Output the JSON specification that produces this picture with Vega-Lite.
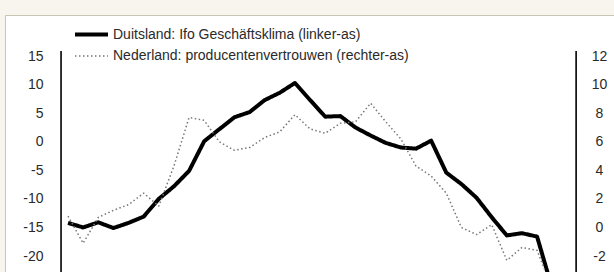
{
  "$schema": "https://vega.github.io/schema/vega-lite/v6.json",
  "width": 615,
  "height": 281,
  "autosize": {"type": "none"},
  "padding": {"left": 5, "top": 15, "right": 0, "bottom": 0},
  "background": "#f7f5ee",
  "config": {
    "view": {"fill": "white", "stroke": "#c9c5b3", "strokeWidth": 1},
    "font": "Liberation Sans",
    "axis": {"domain": false, "ticks": false, "grid": false, "labelFontSize": 14, "labelColor": "#2a2a2a", "labelFont": "Liberation Sans", "labelExpr": "replace(datum.label, '\u2212', '-')"},
    "legend": {"labelFont": "Liberation Sans", "labelLimit": 0}
  },
  "data": {
    "values": [
      {"k": 0, "de": -14.2, "nl": 0.8},
      {"k": 1, "de": -15.0, "nl": -1.1},
      {"k": 2, "de": -14.1, "nl": 0.7},
      {"k": 3, "de": -15.1, "nl": 1.2},
      {"k": 4, "de": -14.2, "nl": 1.6},
      {"k": 5, "de": -13.1, "nl": 2.4},
      {"k": 6, "de": -10.0, "nl": 1.5},
      {"k": 7, "de": -7.8, "nl": 4.3},
      {"k": 8, "de": -5.1, "nl": 7.7},
      {"k": 9, "de": 0.1, "nl": 7.5},
      {"k": 10, "de": 2.2, "nl": 6.0},
      {"k": 11, "de": 4.3, "nl": 5.4},
      {"k": 12, "de": 5.2, "nl": 5.6},
      {"k": 13, "de": 7.3, "nl": 6.3},
      {"k": 14, "de": 8.6, "nl": 6.7},
      {"k": 15, "de": 10.3, "nl": 7.9},
      {"k": 16, "de": 7.3, "nl": 6.9},
      {"k": 17, "de": 4.4, "nl": 6.6},
      {"k": 18, "de": 4.5, "nl": 7.3},
      {"k": 19, "de": 2.5, "nl": 7.4},
      {"k": 20, "de": 1.1, "nl": 8.7},
      {"k": 21, "de": -0.2, "nl": 7.4},
      {"k": 22, "de": -1.0, "nl": 6.2},
      {"k": 23, "de": -1.2, "nl": 4.3},
      {"k": 24, "de": 0.2, "nl": 3.6},
      {"k": 25, "de": -5.4, "nl": 2.4},
      {"k": 26, "de": -7.4, "nl": 0.0},
      {"k": 27, "de": -9.8, "nl": -0.5},
      {"k": 28, "de": -13.2, "nl": 0.2},
      {"k": 29, "de": -16.4, "nl": -2.3},
      {"k": 30, "de": -16.0, "nl": -1.4},
      {"k": 31, "de": -16.6, "nl": -1.6},
      {"k": 32, "de": -25.7, "nl": -4.3}
    ]
  },
  "layer": [
    {
      "data": {"values": [{}]},
      "mark": {"type": "rule", "color": "black", "strokeWidth": 1.6},
      "encoding": {
        "x": {"datum": -0.46, "type": "quantitative", "scale": {"domain": [-4.164, 36.48], "nice": false, "zero": false}, "axis": null},
        "y": {"datum": 15.9, "type": "quantitative", "scale": {"domain": [-27, 22.2], "nice": false, "zero": false}, "axis": null},
        "y2": {"datum": -27}
      }
    },
    {
      "data": {"values": [{}]},
      "mark": {"type": "rule", "color": "black", "strokeWidth": 1.6},
      "encoding": {
        "x": {"datum": 33.58, "type": "quantitative", "scale": {"domain": [-4.164, 36.48], "nice": false, "zero": false}, "axis": null},
        "y": {"datum": 15.9, "type": "quantitative", "scale": {"domain": [-27, 22.2], "nice": false, "zero": false}, "axis": null},
        "y2": {"datum": -27}
      }
    },
    {
      "transform": [{"fold": ["de"], "as": ["series", "value"]}],
      "mark": {"type": "line", "strokeJoin": "round", "strokeCap": "butt"},
      "encoding": {
        "x": {"field": "k", "type": "quantitative", "scale": {"domain": [-4.164, 36.48], "nice": false, "zero": false}, "axis": null},
        "y": {"field": "value", "type": "quantitative", "scale": {"domain": [-27, 22.2], "nice": false, "zero": false},
              "axis": {"orient": "left", "offset": -56, "labelPadding": 18, "values": [-20, -15, -10, -5, 0, 5, 10, 15], "title": null}},
        "color": {"field": "series", "type": "nominal", "scale": {"domain": ["de", "nl"], "range": ["#000000", "#777777"]},
                  "legend": {"orient": "none", "legendX": 79, "legendY": 12, "title": null, "padding": 0, "rowPadding": 6,
                             "symbolType": "M-3,0H3", "symbolSize": 121, "labelOffset": 14, "labelFontSize": 14, "labelColor": "#2a2a2a", "labelLimit": 0,
                             "labelExpr": "datum.label == 'de' ? 'Duitsland: Ifo Geschäftsklima (linker-as)' : 'Nederland: producentenvertrouwen (rechter-as)'"}},
        "strokeDash": {"field": "series", "type": "nominal", "scale": {"domain": ["de", "nl"], "range": [[1, 0], [1.5, 2.5]]}},
        "strokeWidth": {"field": "series", "type": "nominal", "scale": {"domain": ["de", "nl"], "range": [4, 1.5]}}
      }
    },
    {
      "transform": [{"fold": ["nl"], "as": ["series", "value"]}],
      "mark": {"type": "line", "strokeJoin": "round", "strokeCap": "butt"},
      "encoding": {
        "x": {"field": "k", "type": "quantitative", "scale": {"domain": [-4.164, 36.48], "nice": false, "zero": false}, "axis": null},
        "y": {"field": "value", "type": "quantitative", "scale": {"domain": [-4.8, 14.88], "nice": false, "zero": false},
              "axis": {"orient": "right", "offset": -44, "labelPadding": 23, "labelAlign": "center", "values": [-2, 0, 2, 4, 6, 8, 10, 12], "title": null}},
        "color": {"field": "series", "type": "nominal", "scale": {"domain": ["de", "nl"], "range": ["#000000", "#777777"]}},
        "strokeDash": {"field": "series", "type": "nominal", "scale": {"domain": ["de", "nl"], "range": [[1, 0], [1.5, 2.5]]}},
        "strokeWidth": {"field": "series", "type": "nominal", "scale": {"domain": ["de", "nl"], "range": [4, 1.5]}}
      }
    }
  ],
  "resolve": {"scale": {"y": "independent"}}
}
